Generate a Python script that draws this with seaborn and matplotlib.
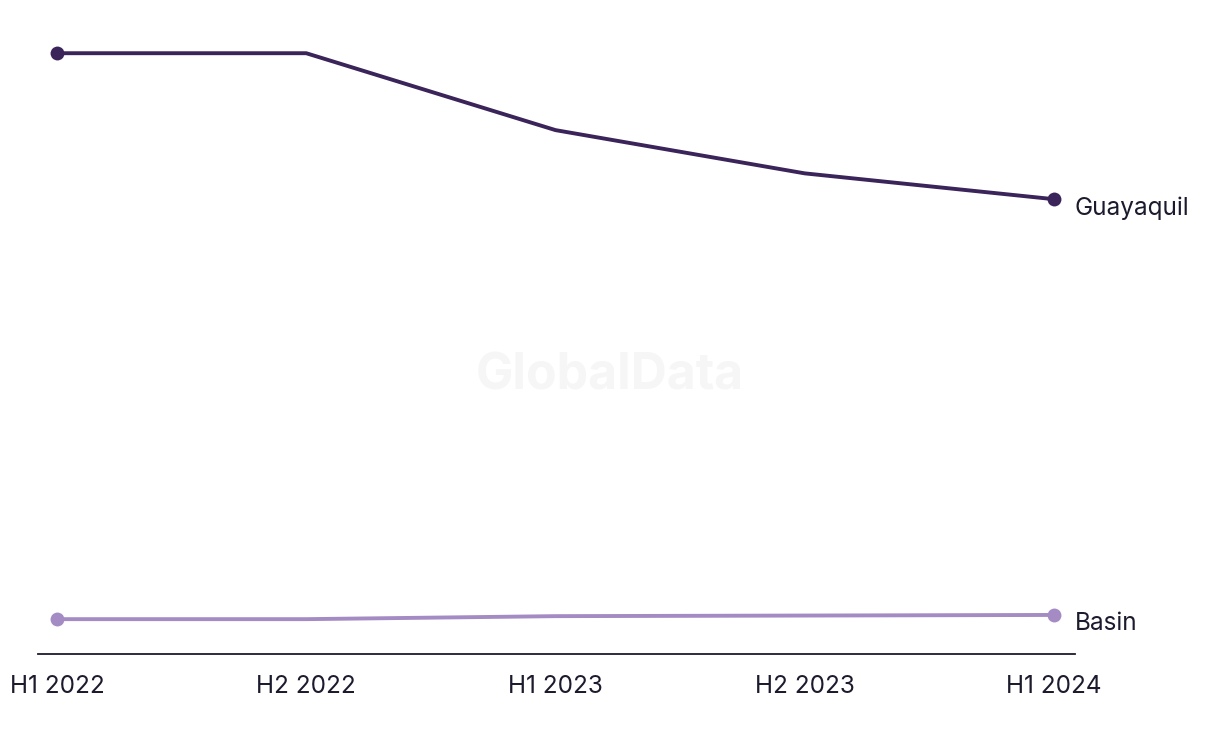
import matplotlib
matplotlib.use("Agg")
import matplotlib.pyplot as plt
import pandas as pd
import seaborn as sns

periods = ["H1 2022", "H2 2022", "H1 2023", "H2 2023", "H1 2024"]
guayaquil = [100.0, 100.0, 87.2, 80.0, 75.7]
basin = [5.8, 5.8, 6.3, 6.4, 6.5]

COLORS = {"Guayaquil": "#3a2459", "Basin": "#a48bc3"}
TEXT = "#1c1b2e"

sns.set_style("white")
plt.rcParams["font.family"] = ["Inter", "DejaVu Sans"]

df = pd.DataFrame({
    "period": periods * 2,
    "x": list(range(len(periods))) * 2,
    "value": guayaquil + basin,
    "port": ["Guayaquil"] * len(periods) + ["Basin"] * len(periods),
})

fig = plt.figure(figsize=(12.2, 7.44), dpi=100)
ax = fig.add_axes([38 / 1220, 1 - 654 / 744, (1075 - 38) / 1220, (654 - 40) / 744])

for name, sub in df.groupby("port"):
    sns.lineplot(data=sub, x="x", y="value", ax=ax, color=COLORS[name],
                 linewidth=2.8, marker="o", markersize=10, markevery=[0, len(sub) - 1],
                 markeredgewidth=0, legend=False)
    last = sub.iloc[-1]
    ax.annotate(name, (last["x"], last["value"]), xytext=(15, -6.5),
                textcoords="offset points", va="center", ha="left",
                fontsize=17.5, color=TEXT, annotation_clip=False)

ax.set_xlim(-0.076, 4.084)
ax.set_ylim(0, 102.2)
ax.set_xticks(range(len(periods)))
ax.set_xticklabels(periods, fontsize=17.5, color=TEXT)
ax.tick_params(axis="x", length=0, pad=15)
ax.set_yticks([])
ax.set_xlabel("")
ax.set_ylabel("")
for s in ["top", "right", "left"]:
    ax.spines[s].set_visible(False)
ax.spines["bottom"].set_color(TEXT)
ax.spines["bottom"].set_linewidth(1.3)

fig.text(0.5, 1 - 376 / 744, "GlobalData", ha="center", va="center",
         fontsize=36, fontweight="bold", color="#f6f6f6", zorder=0)

fig.savefig("out.png", dpi=100, facecolor="white")
